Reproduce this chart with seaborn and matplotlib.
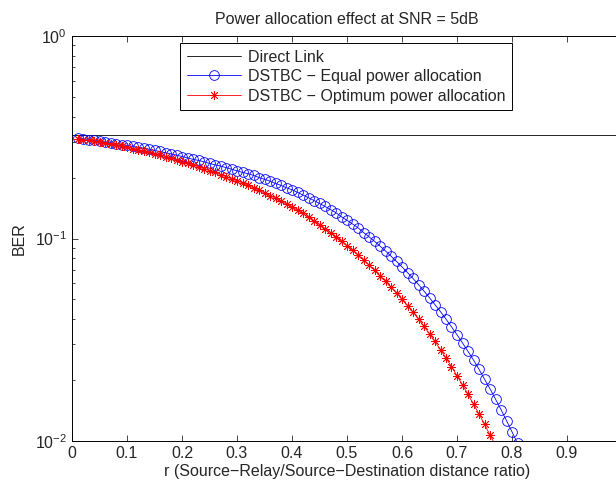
import matplotlib
matplotlib.use("Agg")
import numpy as np
import pandas as pd
import matplotlib.pyplot as plt
import seaborn as sns

# ==============================
# DATA
# ==============================

R = [0.01, 0.02, 0.03, 0.04, 0.05, 0.06, 0.07, 0.08, 0.09, 0.10,
     0.11, 0.12, 0.13, 0.14, 0.15, 0.16, 0.17, 0.18, 0.19, 0.20,
     0.21, 0.22, 0.23, 0.24, 0.25, 0.26, 0.27, 0.28, 0.29, 0.30,
     0.31, 0.32, 0.33, 0.34, 0.35, 0.36, 0.37, 0.38, 0.39, 0.40,
     0.41, 0.42, 0.43, 0.44, 0.45, 0.46, 0.47, 0.48, 0.49, 0.50,
     0.51, 0.52, 0.53, 0.54, 0.55, 0.56, 0.57, 0.58, 0.59, 0.60,
     0.61, 0.62, 0.63, 0.64, 0.65, 0.66, 0.67, 0.68, 0.69, 0.70,
     0.71, 0.72, 0.73, 0.74, 0.75, 0.76, 0.77, 0.78, 0.79, 0.80,
     0.81]

BER_EQUAL = [0.314, 0.311, 0.308, 0.306, 0.303, 0.300, 0.297, 0.294, 0.291, 0.288,
             0.285, 0.282, 0.279, 0.276, 0.272, 0.269, 0.265, 0.262, 0.258, 0.254,
             0.250, 0.246, 0.243, 0.239, 0.235, 0.231, 0.228, 0.224, 0.220, 0.216,
             0.212, 0.209, 0.205, 0.200, 0.196, 0.192, 0.187, 0.183, 0.178, 0.174,
             0.169, 0.164, 0.159, 0.154, 0.149, 0.144, 0.139, 0.134, 0.128, 0.123,
             0.118, 0.113, 0.107, 0.102, 0.0969, 0.0918, 0.0868, 0.0818, 0.0771, 0.0724,
             0.0679, 0.0635, 0.0592, 0.0550, 0.0510, 0.0471, 0.0435, 0.0400, 0.0366, 0.0335,
             0.0305, 0.0277, 0.0251, 0.0226, 0.0202, 0.0181, 0.0161, 0.0143, 0.0126, 0.0111,
             0.00973]

BER_OPT = [0.310, 0.307, 0.305, 0.302, 0.299, 0.295, 0.292, 0.289, 0.285, 0.282,
           0.278, 0.274, 0.270, 0.266, 0.262, 0.258, 0.254, 0.249, 0.245, 0.240,
           0.235, 0.230, 0.226, 0.221, 0.216, 0.212, 0.207, 0.202, 0.197, 0.193,
           0.188, 0.183, 0.178, 0.173, 0.168, 0.163, 0.158, 0.153, 0.148, 0.143,
           0.138, 0.133, 0.127, 0.122, 0.117, 0.112, 0.107, 0.102, 0.0971, 0.0923,
           0.0875, 0.0829, 0.0783, 0.0739, 0.0696, 0.0654, 0.0614, 0.0575, 0.0537, 0.0501,
           0.0466, 0.0433, 0.0400, 0.0368, 0.0338, 0.0310, 0.0282, 0.0257, 0.0233, 0.0210,
           0.0189, 0.0170, 0.0152, 0.0136, 0.0121, 0.0107, 0.00951, 0.00840]

R_DIRECT = [0.0, 1.0]
BER_DIRECT = [0.324, 0.324]

LABELS = ["Direct Link",
          "DSTBC \u2212 Equal power allocation",
          "DSTBC \u2212 Optimum power allocation"]

TITLE = "Power allocation effect at SNR = 5dB"
XLABEL = "r (Source\u2212Relay/Source\u2212Destination distance ratio)"
YLABEL = "BER"
XTICKS = [0, 0.1, 0.2, 0.3, 0.4, 0.5, 0.6, 0.7, 0.8, 0.9, 1.0]
# the "1" label falls outside the picture in the reference
XTICKLABELS = ["0", "0.1", "0.2", "0.3", "0.4", "0.5", "0.6", "0.7", "0.8", "0.9", ""]

FS = 11.5

# ==============================
# STYLE
# ==============================

sns.set_style("ticks")
plt.rcParams["font.family"] = ["Liberation Sans", "DejaVu Sans"]
plt.rcParams["font.size"] = FS
plt.rcParams["axes.linewidth"] = 0.7

df_eq = pd.DataFrame({"r": R, "BER": BER_EQUAL})
df_opt = pd.DataFrame({"r": R[:len(BER_OPT)], "BER": BER_OPT})
df_dir = pd.DataFrame({"r": R_DIRECT, "BER": BER_DIRECT})

fig = plt.figure(figsize=(6.16, 4.84), dpi=100)
ax = fig.add_axes([72 / 616, 43 / 484, 550 / 616, 405 / 484])

sns.lineplot(data=df_dir, x="r", y="BER", ax=ax, color="black", lw=0.6,
             label=LABELS[0])
sns.lineplot(data=df_eq, x="r", y="BER", ax=ax, color="blue", lw=0.6,
             marker="o", markersize=7, markerfacecolor="none",
             markeredgecolor="blue", markeredgewidth=0.6, label=LABELS[1])
sns.lineplot(data=df_opt, x="r", y="BER", ax=ax, color="red", lw=0.6,
             marker=(8, 2, 0), markersize=6.5, markerfacecolor="red",
             markeredgecolor="red", markeredgewidth=0.6, label=LABELS[2])

ax.set_yscale("log")
ax.set_ylim(1e-2, 1e0)
ax.set_xlim(0, 1)
ax.set_xticks(XTICKS)
ax.set_xticklabels(XTICKLABELS)

ax.set_title(TITLE, fontsize=FS, pad=9)
ax.set_xlabel(XLABEL, fontsize=FS, labelpad=2)
ax.set_ylabel(YLABEL, fontsize=FS, labelpad=6)

ax.tick_params(which="both", direction="in", top=True, right=True,
               width=0.6, labelsize=FS)
ax.tick_params(which="major", length=4)
ax.tick_params(which="minor", length=2.5)
for s in ax.spines.values():
    s.set_color("black")

leg = ax.legend(loc="upper left", bbox_to_anchor=(0.196, 0.983),
                borderaxespad=0, fancybox=False, framealpha=1,
                edgecolor="black", handlelength=3.4, handletextpad=0.45,
                labelspacing=0.28, borderpad=0.42, fontsize=FS)
leg.get_frame().set_linewidth(0.7)

fig.savefig("out.png", dpi=100)
